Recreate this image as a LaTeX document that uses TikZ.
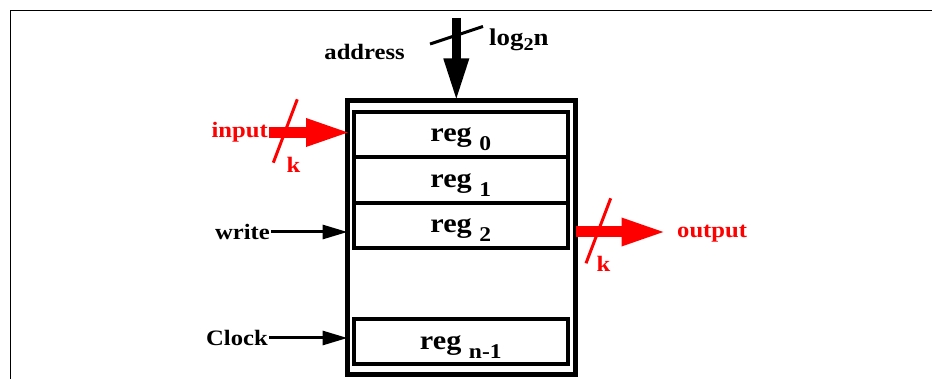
\documentclass[tikz,border=0pt]{standalone}
\usepackage{fontspec}
\setmainfont{Liberation Serif}[FakeStretch=1.12]
\usetikzlibrary{arrows.meta,calc}
\definecolor{busred}{RGB}{255,0,0}
\tikzset{
  lbl/.style={font=\fontsize{22}{24}\selectfont\bfseries, inner sep=1pt},
  redlbl/.style={lbl, text=busred},
  regbox/.style={draw, line width=4pt, minimum width=213.5pt, minimum height=45.5pt, inner sep=0pt, text height=18pt, text depth=3pt, font=\fontsize{27}{30}\selectfont\bfseries},
  membox/.style={draw, line width=4.5pt, minimum width=228pt, minimum height=274pt, inner sep=0pt, outer sep=0pt},
  wire/.style={line width=3pt, -{Triangle[length=25pt,width=14pt]}},
  bus/.style={line width=9pt, shorten >=-1pt, -{Triangle[length=43pt,width=23pt]}},
  redbus/.style={line width=11pt, busred, shorten >=-4.5pt, -{Triangle[length=46pt,width=25pt]}},
  slash/.style={line width=3pt},
  redslash/.style={slash, busred},
  frameline/.style={line width=1.3pt}
}
\newcommand\regsub[1]{reg~\raisebox{-9pt}[0pt][0pt]{\fontsize{21}{22}\selectfont #1}}
\begin{document}
\begin{tikzpicture}[x=1pt, y=-1pt]
\useasboundingbox (0,0) rectangle (932,379);
\draw[frameline] (10.5,379) -- (10.5,10.5) -- (932,10.5);
\node[membox] (mem) at (461.5,237.5) {};
\foreach \i/\y in {0/134.4,1/179.9,2/225.5} \node[regbox] (r\i) at (460.8,\y) {\regsub{\i}};
\node[regbox] (rn) at (460.8,341.7) {\regsub{n-1}};
\node[lbl, anchor=east] (addr) at (406,52) {address};
\coordinate (addrtop) at (456.3,18);
\draw[bus] (addrtop) -- (addrtop |- mem.north);
\draw[slash] (430,44) -- (483,26.5);
\node[lbl, anchor=base west, font=\fontsize{24}{26}\selectfont\bfseries] (logn) at (488,46) {log\raisebox{-5pt}{\fontsize{18}{19}\selectfont 2}n};
\coordinate (intail) at (269,132.5);
\node[redlbl, anchor=east] (inlbl) at (intail) {input};
\draw[redbus] (intail) -- (intail -| mem.west);
\draw[redslash] (297.3,99.3) -- (273.3,162.7);
\node[redlbl, anchor=base west] (kin) at (285.5,173) {k};
\coordinate (outtip) at (663,232);
\draw[redbus] (outtip -| mem.east) -- (outtip);
\draw[redslash] (610.7,198.3) -- (586,263.3);
\node[redlbl, anchor=base west] (kout) at (595.5,271.7) {k};
\node[redlbl, anchor=base west] (outlbl) at (676,238) {output};
\node[lbl, anchor=east] (wr) at (271,232) {write};
\draw[wire] (wr.east) -- (wr.east -| mem.west);
\node[lbl, anchor=east] (clk) at (269,338) {Clock};
\draw[wire] (clk.east) -- (clk.east -| mem.west);
\end{tikzpicture}
\end{document}
